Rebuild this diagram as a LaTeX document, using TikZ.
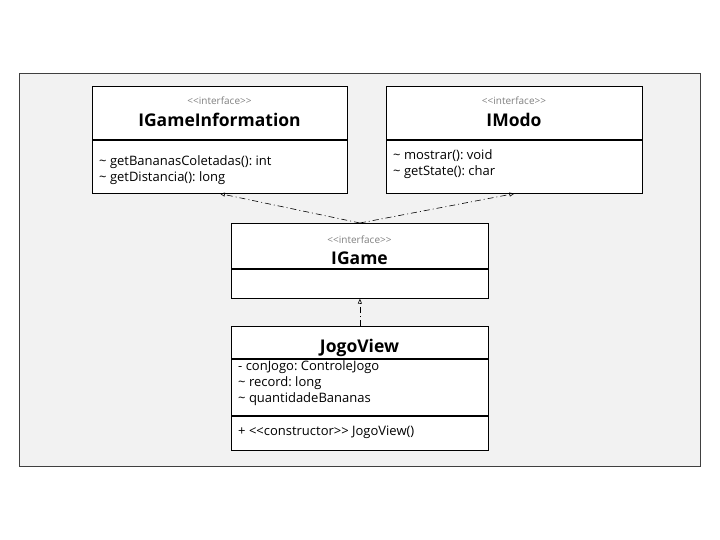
\documentclass[tikz,border=0pt]{standalone}
\usepackage{fontspec}
\setmainfont{Open Sans}
\usepackage{xcolor}
\usetikzlibrary{positioning,arrows.meta}

\definecolor{panelgray}{HTML}{F2F2F2}
\definecolor{stereogray}{HTML}{808080}

\newcommand{\stlt}{\textless\kern0pt\textless\kern0pt}
\newcommand{\stgt}{\kern0pt\textgreater\kern0pt\textgreater}

\tikzset{
  classbox/.style={draw, fill=white, line width=0.8pt, inner sep=0pt},
  stereo/.style={font=\fontsize{10}{11}\selectfont, text=stereogray},
  cname/.style={font=\fontsize{17.5}{19}\selectfont\bfseries},
  member/.style={font=\fontsize{13}{15}\selectfont\frenchspacing, anchor=base west, inner sep=0pt},
  realize/.style={draw, line width=0.6pt, dash pattern=on 6pt off 3pt on 1pt off 3pt,
    -{Triangle[open, length=5pt, width=4pt]}}
}

\begin{document}
\begin{tikzpicture}[x=1pt, y=-1pt]
\useasboundingbox (0,0) rectangle (720,540);
\draw[fill=panelgray, draw=black!75, line width=0.8pt] (19,73) rectangle (700,466);

% IGameInformation
\node[classbox, minimum width=255pt, minimum height=53pt, anchor=north west] (igi_head) at (92,86) {};
\node[classbox, minimum width=255pt, minimum height=53pt, below=0pt of igi_head] (igi_body) {};
\node[stereo] (igi_stereo) at (219.5,101) {\stlt interface\stgt};
\node[cname] (igi_name) at (219.5,120) {IGameInformation};
\node[member] (igi_op1) at (99,166) {\textasciitilde{} getBananasColetadas(): int};
\node[member] (igi_op2) at (99,181.5) {\textasciitilde{} getDistancia(): long};

% IModo
\node[classbox, minimum width=256pt, minimum height=53pt, anchor=north west] (imodo_head) at (386,86) {};
\node[classbox, minimum width=256pt, minimum height=53pt, below=0pt of imodo_head] (imodo_body) {};
\node[stereo] (imodo_stereo) at (514,101) {\stlt interface\stgt};
\node[cname] (imodo_name) at (514,120) {IModo};
\node[member] (imodo_op1) at (393,160) {\textasciitilde{} mostrar(): void};
\node[member] (imodo_op2) at (393,175.5) {\textasciitilde{} getState(): char};

% IGame
\node[classbox, minimum width=257pt, minimum height=45pt, anchor=north west] (igame_head) at (231,223) {};
\node[classbox, minimum width=257pt, minimum height=29pt, below=0pt of igame_head] (igame_body) {};
\node[stereo] (igame_stereo) at (359.5,239.5) {\stlt interface\stgt};
\node[cname] (igame_name) at (359.5,258) {IGame};

% JogoView
\node[classbox, minimum width=257pt, minimum height=32pt, anchor=north west] (jv_head) at (231,326) {};
\node[classbox, minimum width=257pt, minimum height=56pt, below=0pt of jv_head] (jv_attr) {};
\node[classbox, minimum width=257pt, minimum height=34pt, below=0pt of jv_attr] (jv_ops) {};
\node[cname] (jv_name) at (359.5,347.5) {JogoView};
\node[member] (jv_field1) at (238,370.5) {- conJogo: ControleJogo};
\node[member] (jv_field2) at (238,386.5) {\textasciitilde{} record: long};
\node[member] (jv_field3) at (238,402.5) {\textasciitilde{} quantidadeBananas};
\node[member] (jv_ctor) at (238,435.5) {+ \stlt constructor\stgt{} JogoView()};

% realizations
\draw[realize] (igame_head.north) -- (igi_body.south);
\draw[realize] (igame_head.north) -- (imodo_body.south);
\draw[realize] (jv_head.north) -- (igame_body.south);

\end{tikzpicture}
\end{document}
